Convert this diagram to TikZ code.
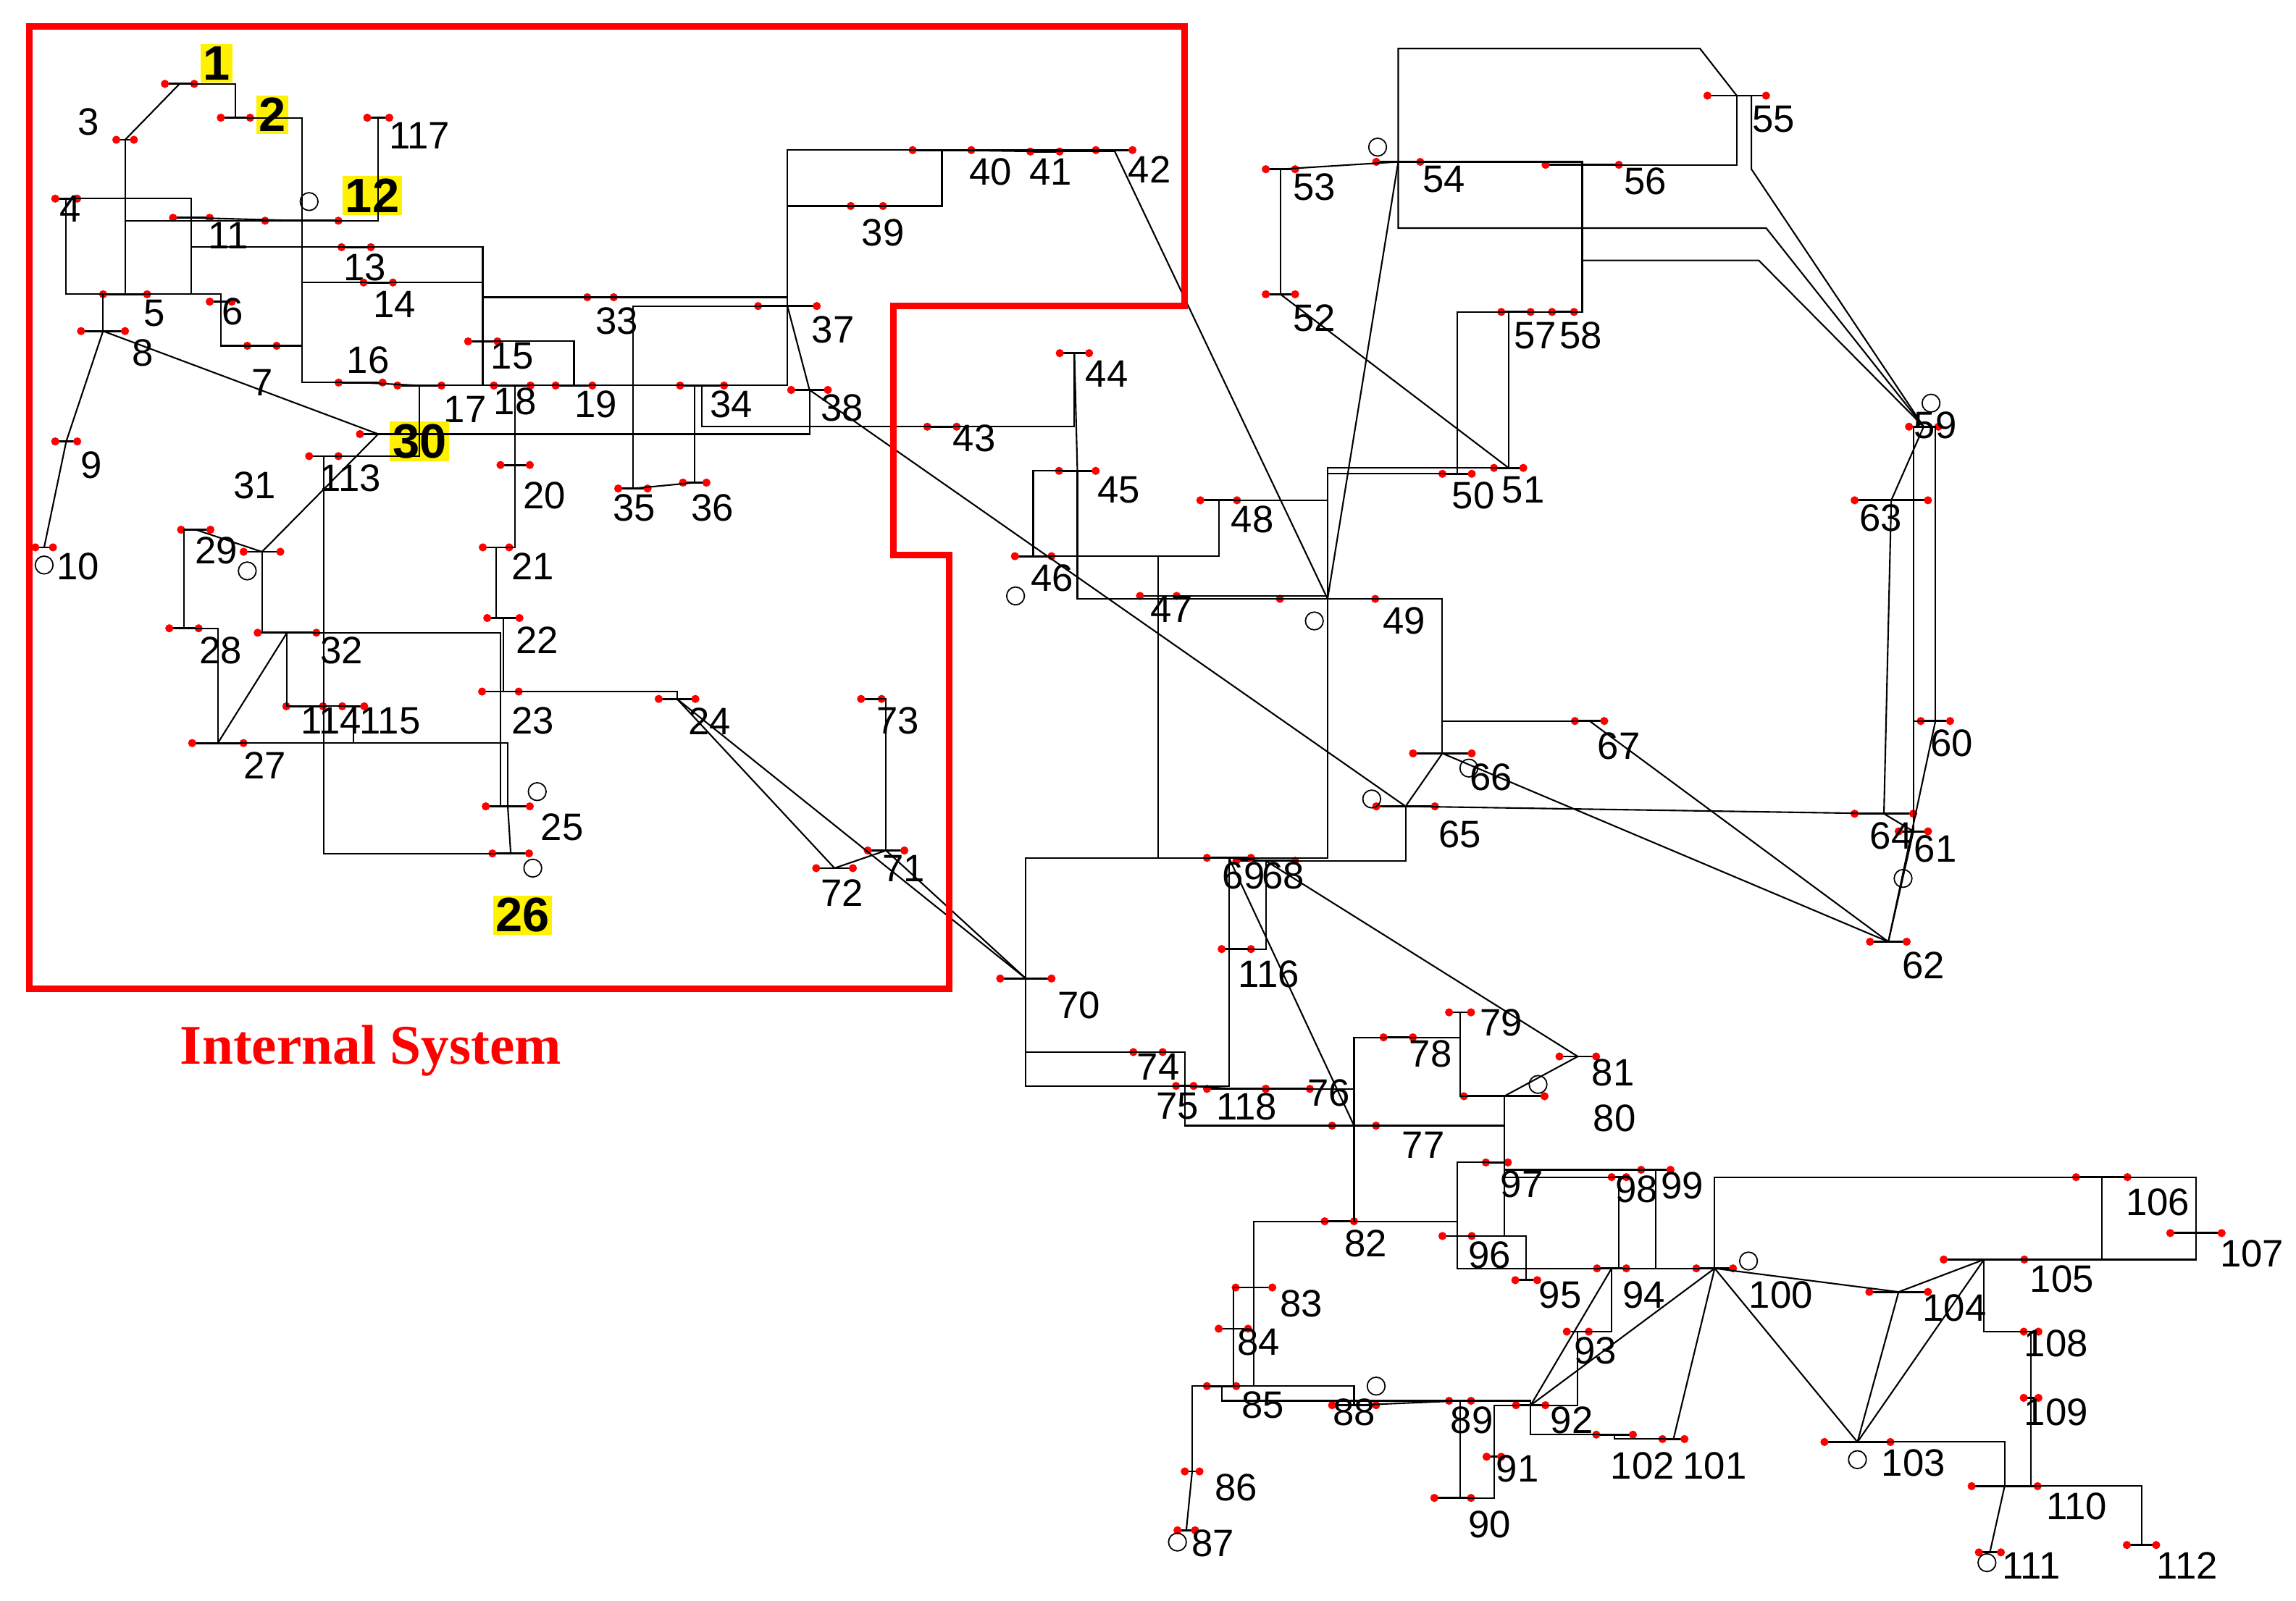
\documentclass[tikz,border=0pt]{standalone}
\usepackage{fontspec}
\setmainfont{Liberation Sans}
\newfontfamily\serifb{Liberation Serif}
\begin{document}
\begin{tikzpicture}[x=0.2032mm,y=-0.2032mm,
  bus/.style={draw,line width=0.8pt,minimum height=0pt,inner sep=0pt,outer sep=0pt},
  lab/.style={font=\fontsize{15}{17}\selectfont,inner sep=1pt},
  ylab/.style={lab,fill=yellow,font=\fontsize{19}{21}\selectfont\bfseries},
  ln/.style={line width=0.6pt},
  dot/.style={fill=red,draw=none},
  gen/.style={draw,circle,minimum size=7pt,inner sep=0pt,line width=0.5pt}]
\useasboundingbox (0,0) rectangle (1560,1088);
\newcommand\bus[6]{\node[bus,minimum width=#4*0.576pt] (b#1) at (#2,#3) {};
  \fill[dot] (b#1.west) circle (1.6pt) (b#1.east) circle (1.6pt);
  \node[lab] (l#1) at (#5,#6) {#1};}
\newcommand\ybus[6]{\node[bus,minimum width=#4*0.576pt] (b#1) at (#2,#3) {};
  \fill[dot] (b#1.west) circle (1.6pt) (b#1.east) circle (1.6pt);
  \node[ylab] (l#1) at (#5,#6) {#1};}
\newcommand\cn[3]{\draw[ln] (b#1.center) #2 (b#3.center);}
% buses
\ybus{1}{122}{57}{20}{147}{43}
\ybus{2}{160}{80}{20}{185}{78}
\bus{3}{85}{95}{12}{60}{83}
\bus{117}{257}{80}{15}{285}{92}
\ybus{12}{205}{150}{50}{253}{133}
\bus{4}{45}{135}{15}{48}{142}
\bus{11}{130}{148}{25}{155}{160}
\bus{13}{242}{168}{20}{248}{182}
\bus{14}{257}{192}{20}{268}{207}
\bus{5}{85}{200}{30}{105}{213}
\bus{6}{150}{205}{15}{158}{212}
\bus{7}{178}{235}{20}{178}{260}
\bus{8}{70}{225}{30}{97}{240}
\bus{9}{45}{300}{15}{62}{316}
\bus{10}{30}{372}{12}{53}{385}
\bus{16}{245}{260}{30}{250}{245}
\bus{15}{328}{232}{20}{348}{242}
\bus{17}{285}{262}{30}{316}{278}
\bus{18}{348}{262}{25}{350}{273}
\bus{19}{390}{262}{25}{405}{275}
\ybus{30}{257}{295}{25}{285}{300}
\bus{113}{220}{310}{20}{238}{325}
\node[bus,minimum width=25*0.576pt] (b31) at (178,375) {};
\fill[dot] (b31.west) circle (1.6pt) (b31.east) circle (1.6pt);
\node[lab] (l31) at (173,330) {31};
\bus{29}{133}{360}{20}{147}{374}
\bus{28}{125}{427}{20}{150}{442}
\bus{32}{195}{430}{40}{232}{442}
\bus{114}{207}{480}{25}{225}{490}
\bus{115}{240}{480}{15}{265}{490}
\bus{27}{148}{505}{35}{180}{520}
\bus{20}{350}{316}{20}{370}{337}
\bus{21}{337}{372}{18}{362}{385}
\bus{22}{342}{420}{22}{365}{435}
\bus{23}{340}{470}{25}{362}{490}
\bus{24}{460}{475}{25}{482}{490}
\bus{25}{345}{548}{30}{382}{562}
\ybus{26}{347}{580}{25}{355}{622}
\bus{33}{408}{202}{18}{419}{218}
\bus{34}{477}{262}{30}{497}{275}
\bus{35}{430}{332}{20}{431}{345}
\bus{36}{472}{328}{16}{484}{345}
\bus{37}{535}{208}{40}{566}{224}
\bus{38}{550}{265}{25}{572}{277}
\bus{39}{589}{140}{22}{600}{158}
\bus{40}{640}{102}{40}{673}{117}
\bus{41}{710}{103}{20}{714}{117}
\bus{42}{757}{102}{25}{781}{115}
\bus{73}{592}{475}{14}{610}{490}
\bus{71}{602}{578}{25}{614}{590}
\bus{72}{567}{590}{25}{572}{607}
\bus{43}{640}{290}{20}{662}{298}
\bus{44}{730}{240}{20}{752}{254}
\bus{45}{732}{320}{25}{760}{333}
\bus{46}{702}{378}{25}{715}{393}
\bus{47}{787}{405}{25}{796}{414}
\bus{48}{828}{340}{25}{851}{353}
\bus{49}{902}{407}{65}{954}{422}
\bus{50}{990}{322}{20}{1001}{337}
\bus{51}{1025}{318}{20}{1035}{333}
\bus{52}{870}{200}{20}{893}{216}
\bus{53}{870}{115}{20}{893}{127}
\bus{54}{950}{110}{30}{981}{122}
\bus{55}{1180}{65}{40}{1205}{81}
\bus{56}{1075}{112}{50}{1118}{123}
\bus{57}{1030}{212}{20}{1043}{228}
\bus{58}{1062}{212}{15}{1074}{228}
\bus{59}{1307}{290}{20}{1315}{289}
\bus{63}{1285}{340}{50}{1278}{352}
\bus{60}{1315}{490}{20}{1326}{505}
\bus{61}{1300}{565}{20}{1315}{577}
\bus{64}{1280}{553}{40}{1285}{568}
\bus{62}{1283}{640}{25}{1307}{656}
\bus{65}{955}{548}{40}{992}{567}
\bus{66}{980}{512}{40}{1013}{528}
\bus{67}{1080}{490}{20}{1100}{507}
\bus{68}{860}{585}{40}{872}{595}
\bus{69}{835}{583}{30}{845}{595}
\bus{116}{840}{645}{20}{862}{662}
\bus{70}{697}{665}{35}{733}{683}
\bus{74}{780}{715}{20}{787}{725}
\bus{75}{805}{738}{12}{800}{752}
\bus{118}{840}{740}{40}{847}{752}
\bus{76}{875}{740}{30}{903}{743}
\bus{77}{920}{765}{30}{967}{778}
\bus{78}{950}{705}{20}{972}{716}
\bus{79}{992}{688}{15}{1020}{695}
\bus{80}{1022}{745}{55}{1097}{760}
\bus{81}{1072}{718}{25}{1096}{729}
\bus{82}{910}{830}{20}{928}{845}
\bus{83}{852}{875}{25}{884}{886}
\bus{84}{838}{903}{20}{855}{912}
\bus{85}{830}{942}{20}{858}{955}
\bus{86}{810}{1000}{10}{840}{1011}
\bus{87}{806}{1040}{12}{824}{1049}
\bus{88}{920}{955}{30}{920}{960}
\bus{89}{992}{952}{15}{1000}{965}
\bus{90}{987}{1018}{25}{1012}{1036}
\bus{91}{1015}{990}{10}{1031}{998}
\bus{92}{1040}{955}{20}{1068}{965}
\bus{93}{1072}{905}{15}{1084}{918}
\bus{94}{1095}{862}{20}{1117}{880}
\bus{95}{1037}{870}{15}{1060}{880}
\bus{96}{990}{840}{20}{1012}{853}
\bus{97}{1017}{790}{15}{1034}{805}
\bus{98}{1100}{800}{10}{1112}{808}
\bus{99}{1125}{795}{20}{1143}{806}
\bus{100}{1165}{862}{25}{1210}{880}
\bus{101}{1137}{978}{15}{1165}{996}
\bus{102}{1097}{975}{25}{1116}{996}
\bus{103}{1262}{980}{45}{1300}{994}
\bus{104}{1290}{878}{40}{1328}{889}
\bus{105}{1348}{856}{55}{1401}{869}
\bus{106}{1428}{800}{35}{1466}{817}
\bus{107}{1492}{838}{35}{1530}{852}
\bus{108}{1380}{905}{10}{1397}{913}
\bus{109}{1380}{950}{10}{1397}{960}
\bus{110}{1362}{1010}{45}{1411}{1024}
\bus{111}{1352}{1055}{15}{1380}{1064}
\bus{112}{1455}{1050}{20}{1486}{1064}
% generators
\foreach \n/\x/\y in {g10/30/384,g25/365/538,g26/362/590,g31/168/388,g46/690/405,g49/893/422,g54/936/100,g59/1312/274,g61/1293/597,g65/932/543,g66/998/522,g80/1045/737,g87/800/1048,g89/935/942,g100/1188/857,g103/1262/992,g111/1350/1062,g12/210/137}
  \node[gen] (\n) at (\x,\y) {};
% waypoints
\coordinate (w1) at (950,33); \coordinate (w2) at (1155,33);
\coordinate (w3) at (1200,155); \coordinate (w4) at (1195,177);
\coordinate (w5) at (1190,115);
% connectors
\cn{1}{--}{3}\cn{1}{-|}{2}\cn{2}{-|}{12}\cn{3}{|-}{12}\cn{3}{|-}{5}
\cn{4}{|-}{5}\cn{4}{-|}{11}\cn{5}{-|}{11}\cn{5}{-|}{6}\cn{6}{|-}{7}
\cn{8}{|-}{5}\cn{8}{--}{9}\cn{9}{--}{10}\cn{11}{--}{12}\cn{7}{-|}{12}
\cn{11}{|-}{13}\cn{12}{|-}{14}\cn{13}{-|}{15}\cn{14}{-|}{15}\cn{12}{|-}{16}
\cn{15}{|-}{17}\cn{16}{--}{17}\cn{17}{--}{18}\cn{18}{--}{19}\cn{19}{-|}{20}
\cn{15}{-|}{19}\cn{20}{|-}{21}\cn{21}{|-}{22}\cn{22}{|-}{23}\cn{23}{-|}{24}
\cn{23}{|-}{25}\cn{26}{--}{25}\cn{25}{|-}{27}\cn{27}{|-}{28}\cn{28}{|-}{29}
\cn{30}{-|}{17}\cn{8}{--}{30}\cn{26}{-|}{113}\cn{17}{|-}{113}\cn{29}{--}{31}
\cn{30}{--}{31}\cn{23}{|-}{32}\cn{31}{|-}{32}\cn{27}{--}{32}\cn{15}{|-}{33}
\cn{19}{-|}{34}\cn{35}{--}{36}\cn{35}{|-}{37}\cn{33}{-|}{37}\cn{34}{-|}{36}
\cn{34}{-|}{37}\cn{38}{--}{37}\cn{37}{|-}{39}\cn{37}{|-}{40}\cn{30}{-|}{38}
\cn{39}{-|}{40}\cn{40}{--}{41}\cn{40}{|-}{42}\cn{41}{-|}{42}\cn{43}{-|}{44}
\cn{34}{|-}{43}\cn{44}{--}{45}\cn{45}{-|}{46}\cn{46}{-|}{47}\cn{46}{-|}{48}
\cn{47}{-|}{49}\cn{42}{--}{49}\cn{45}{|-}{49}\cn{48}{-|}{49}\cn{49}{|-}{50}
\cn{49}{|-}{51}\cn{51}{--}{52}\cn{52}{--}{53}\cn{53}{--}{54}\cn{49}{--}{54}
\draw[ln] (b54.center) -- (w1) -- (w2) -- (b55.center);
\cn{54}{-|}{56}\cn{55}{|-}{56}\cn{56}{|-}{57}\cn{50}{|-}{57}
\cn{56}{|-}{58}\cn{51}{|-}{58}
\draw[ln] (b54.center) |- (w3) -- (b59.center);
\draw[ln] (b56.center) |- (w4) -- (b59.center);
\draw[ln] (b55.center) -| (w5) -- (b59.center);
\cn{59}{-|}{60}\cn{59}{-|}{61}\cn{60}{-|}{61}\cn{60}{--}{62}\cn{61}{--}{62}
\cn{63}{--}{59}\cn{63}{--}{64}\cn{64}{--}{61}\cn{38}{--}{65}\cn{64}{--}{65}
\cn{49}{-|}{66}\cn{62}{--}{66}\cn{62}{--}{67}\cn{65}{--}{66}\cn{66}{|-}{67}
\cn{65}{|-}{68}\cn{47}{|-}{69}\cn{49}{|-}{69}\cn{68}{--}{69}\cn{69}{-|}{70}
\cn{24}{--}{70}\cn{70}{--}{71}\cn{24}{--}{72}\cn{71}{--}{72}\cn{71}{|-}{73}
\cn{70}{|-}{74}\cn{70}{|-}{75}\cn{69}{|-}{75}\cn{74}{-|}{75}\cn{76}{-|}{77}
\cn{69}{--}{77}\cn{75}{|-}{77}\cn{77}{|-}{78}\cn{78}{-|}{79}\cn{77}{-|}{80}
\cn{79}{|-}{80}\cn{68}{--}{81}\cn{81}{--}{80}\cn{77}{|-}{82}\cn{82}{-|}{83}
\cn{83}{-|}{84}\cn{83}{|-}{85}\cn{84}{|-}{85}\cn{85}{-|}{86}\cn{86}{--}{87}
\cn{85}{-|}{88}\cn{85}{|-}{89}\cn{88}{--}{89}\cn{89}{|-}{90}\cn{90}{-|}{91}
\cn{89}{-|}{92}\cn{91}{|-}{92}\cn{92}{-|}{93}\cn{92}{--}{94}\cn{93}{-|}{94}
\cn{94}{-|}{95}\cn{80}{|-}{96}\cn{82}{-|}{96}\cn{94}{-|}{96}\cn{80}{|-}{97}
\cn{80}{|-}{98}\cn{80}{|-}{99}\cn{92}{--}{100}\cn{94}{--}{100}\cn{95}{|-}{96}
\cn{96}{|-}{97}\cn{98}{|-}{100}\cn{99}{|-}{100}\cn{100}{--}{101}\cn{92}{|-}{102}
\cn{101}{-|}{102}\cn{100}{--}{103}\cn{100}{--}{104}\cn{103}{--}{104}\cn{103}{--}{105}
\cn{100}{|-}{106}\cn{104}{--}{105}\cn{105}{-|}{106}\cn{105}{-|}{107}\cn{105}{|-}{108}
\cn{106}{-|}{107}\cn{108}{|-}{109}\cn{103}{-|}{110}\cn{109}{|-}{110}\cn{110}{--}{111}
\cn{110}{-|}{112}\cn{32}{-|}{113}\cn{32}{|-}{114}\cn{27}{-|}{115}\cn{114}{--}{115}
\cn{68}{|-}{116}\cn{12}{-|}{117}\cn{75}{--}{118}\cn{76}{--}{118}
% internal system boundary
\draw[red,line width=2.6pt] (20,18) -- (805,18) -- (805,208) -- (607,208) -- (607,377) -- (645,377) -- (645,672) -- (20,672) -- cycle;
\node[text=red,font=\serifb\fontsize{22}{24}\selectfont\bfseries] (title) at (252,714) {Internal System};
\end{tikzpicture}
\end{document}
